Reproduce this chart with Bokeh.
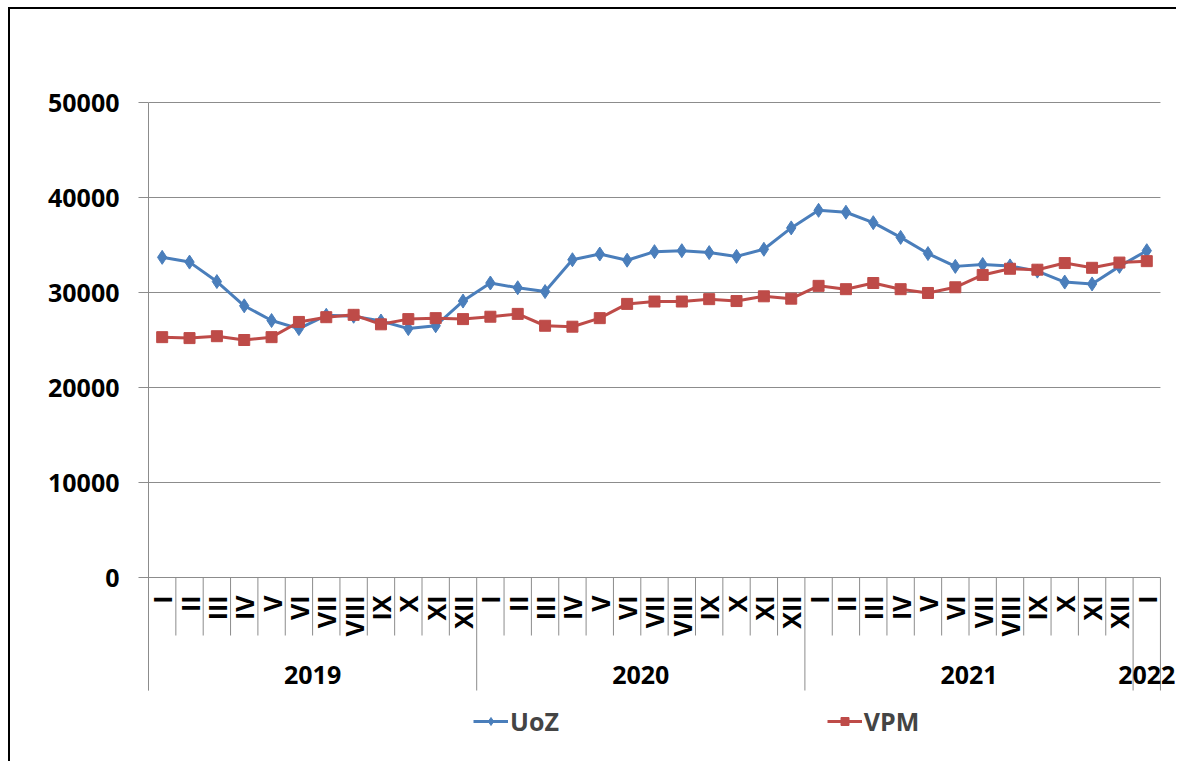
import numpy as np
from bokeh.plotting import figure
from bokeh.models import (Range1d, FixedTicker, ColumnDataSource, LabelSet,
                          Legend, LegendItem)
from bokeh.embed import file_html
from bokeh.resources import INLINE
from bokeh.core.properties import value

# ---------------- data ----------------
years = ["2019", "2020", "2021", "2022"]
year_months = [12, 12, 12, 1]
roman = ["I", "II", "III", "IV", "V", "VI", "VII", "VIII", "IX", "X", "XI", "XII"]
months = roman * 3 + ["I"]

uoz = [33700, 33200, 31150, 28600, 27050, 26200, 27600, 27500, 27000, 26200, 26500, 29100,
       31000, 30500, 30100, 33450, 34050, 33400, 34300, 34400, 34200, 33800, 34550, 36800,
       38650, 38450, 37350, 35800, 34100, 32750, 32950, 32800, 32250, 31100, 30900, 32750,
       34400]
vpm = [25300, 25200, 25400, 25000, 25300, 26900, 27400, 27650, 26650, 27200, 27300, 27200,
       27450, 27750, 26500, 26400, 27300, 28800, 29050, 29050, 29300, 29100, 29600, 29350,
       30700, 30350, 31000, 30350, 29950, 30550, 31850, 32500, 32400, 33100, 32600, 33150,
       33300]
y_ticks = [0, 10000, 20000, 30000, 40000, 50000]
series_names = ["UoZ", "VPM"]

# ---------------- style / layout ----------------
BLUE = "#4A7EBB"
RED = "#BE4B48"
GRID = "#8C8C8C"
FONT = "Open Sans"
W, H = 1168, 754
BORDER_L, BORDER_T = 138, 92
PX_PER_UNIT = 0.0095      # vertical pixels per data unit
CAT_PX = 27.35            # pixels per category
MONTH_SEP_PX = 58
CAT_AREA_PX = 113         # depth of category axis area below zero

n = len(months)
xs = [i + 0.5 for i in range(n)]

frame_w = W - BORDER_L
frame_h = H - BORDER_T
y_end = y_ticks[-1] + 1 / PX_PER_UNIT
y_start = y_end - frame_h / PX_PER_UNIT
x_end = frame_w / CAT_PX
y_cat_bottom = -CAT_AREA_PX / PX_PER_UNIT

p = figure(width=W, height=H, output_backend="svg", toolbar_location=None,
           x_range=Range1d(0, x_end), y_range=Range1d(y_start, y_end),
           min_border_left=BORDER_L, min_border_right=0, min_border_top=BORDER_T,
           min_border_bottom=0, x_axis_location=None)

# chart-area border (top and left edges only, as in the cropped original)
p.styles = {"margin-top": "9px", "margin-left": "10px",
            "box-shadow": "-2px -2px 0 0 #000"}
p.outline_line_color = None
p.background_fill_color = "white"
p.border_fill_color = "white"
p.xgrid.visible = False
p.ygrid.visible = False

ax = p.yaxis[0]
ax.ticker = FixedTicker(ticks=y_ticks)
ax.bounds = (y_cat_bottom, y_ticks[-1])
ax.axis_line_color = GRID
ax.major_tick_line_color = GRID
ax.major_tick_out = 10
ax.major_tick_in = 0
ax.minor_tick_line_color = None
ax.major_label_text_font = FONT
ax.major_label_text_font_style = "bold"
ax.major_label_text_font_size = "25px"
ax.major_label_text_color = "black"
ax.major_label_standoff = 19

# horizontal gridlines (value axis)
p.segment(x0=[0] * len(y_ticks), y0=y_ticks, x1=[n] * len(y_ticks), y1=y_ticks,
          line_color=GRID, line_width=1)

# category separators
bounds = np.cumsum([0] + year_months).tolist()
month_bounds = [b for b in range(1, n) if b not in bounds]
p.segment(x0=month_bounds, y0=0, x1=month_bounds, y1=-MONTH_SEP_PX / PX_PER_UNIT,
          line_color=GRID, line_width=1)
p.segment(x0=bounds, y0=0, x1=bounds, y1=y_cat_bottom, line_color=GRID, line_width=1)

# series
r1 = p.line(xs, uoz, line_color=BLUE, line_width=3)
s1 = p.scatter(xs, uoz, marker="diamond", size=14, fill_color=BLUE, line_color=BLUE)
r2 = p.line(xs, vpm, line_color=RED, line_width=3)
s2 = p.scatter(xs, vpm, marker="square", size=11, fill_color=RED, line_color=RED)

# category labels
msrc = ColumnDataSource(dict(x=xs, y=[0] * n, text=months))
p.add_layout(LabelSet(x="x", y="y", text="text", source=msrc, angle=np.pi / 2,
                      text_align="right", text_baseline="middle", y_offset=-18,
                      text_font=value(FONT), text_font_style="bold",
                      text_font_size="25px", text_color="black"))

YEAR_FS = 25
ycent = [(bounds[i] + bounds[i + 1]) / 2 for i in range(len(years))]
# keep labels inside the canvas: shift left if they would overflow the right edge
half_w = [len(t) * 0.58 * YEAR_FS / 2 for t in years]
xoff = [min(0.0, frame_w - 2 - (c * CAT_PX + hw)) for c, hw in zip(ycent, half_w)]
ysrc = ColumnDataSource(dict(x=ycent, y=[0] * len(years), text=years, xo=xoff))
p.add_layout(LabelSet(x="x", y="y", text="text", source=ysrc, x_offset="xo",
                      text_align="center", text_baseline="middle", y_offset=-97,
                      text_font=value(FONT), text_font_style="bold",
                      text_font_size=f"{YEAR_FS}px", text_color="black"))

legend = Legend(items=[LegendItem(label=series_names[0], renderers=[r1, s1]),
                       LegendItem(label=series_names[1], renderers=[r2, s2])],
                orientation="horizontal", location=(325, 25), spacing=268,
                glyph_width=35, label_standoff=2, padding=6, margin=0,
                border_line_color=None, background_fill_alpha=0,
                label_text_font=FONT, label_text_font_style="bold",
                label_text_font_size="25px")
p.add_layout(legend, "center")

open("out.html", "w").write(file_html(p, INLINE))
